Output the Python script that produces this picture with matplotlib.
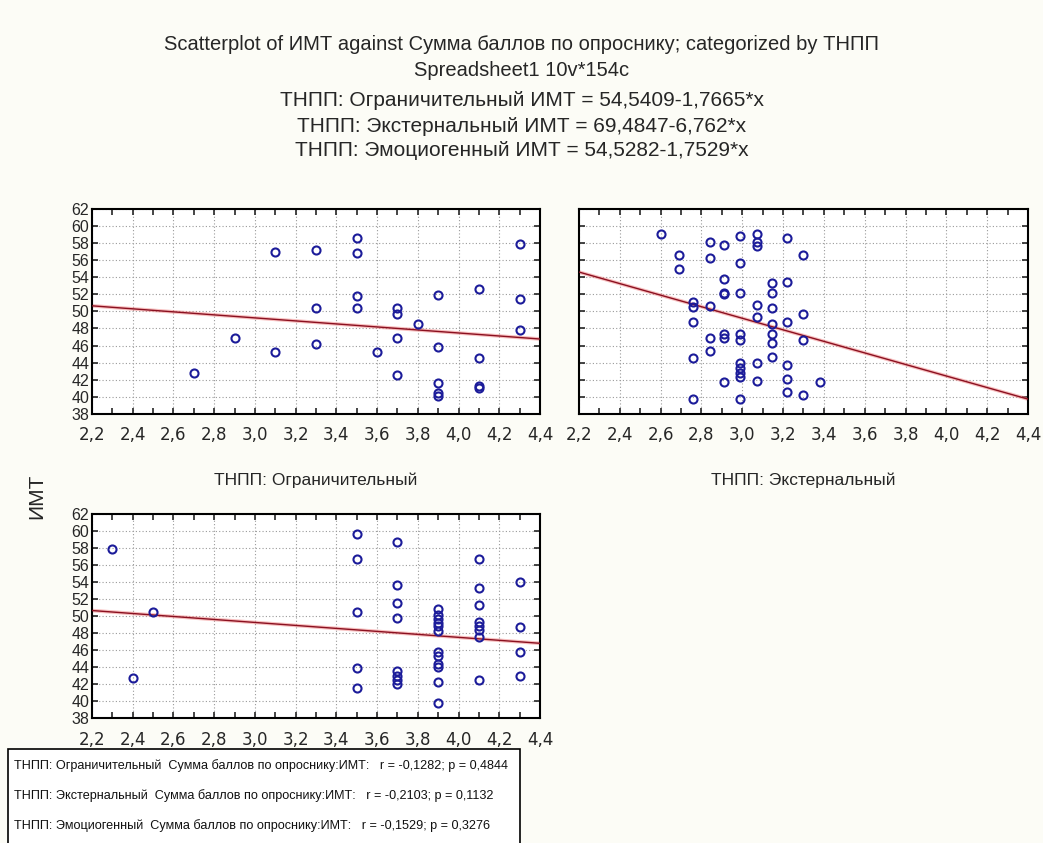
import numpy as np
import matplotlib
matplotlib.use("Agg")
import matplotlib.pyplot as plt
from matplotlib.patches import Rectangle
from matplotlib.ticker import FixedLocator, MultipleLocator, FuncFormatter

plt.rcParams['font.family'] = ['Liberation Sans', 'DejaVu Sans']

# --- data ---
group_names = ['ТНПП: Ограничительный', 'ТНПП: Экстернальный', 'ТНПП: Эмоциогенный']
intercepts = [54.5409, 69.4847, 54.5282]
slopes = [-1.7665, -6.762, -1.7529]
eq_text = ['54,5409-1,7665*x', '69,4847-6,762*x', '54,5282-1,7529*x']
r_vals = ['-0,1282', '-0,2103', '-0,1529']
p_vals = ['0,4844', '0,1132', '0,3276']

x_ogr = [2.7, 2.9, 3.1, 3.1, 3.3, 3.3, 3.3, 3.5, 3.5, 3.5, 3.5, 3.6, 3.7, 3.7, 3.7, 3.7,
         3.8, 3.9, 3.9, 3.9, 3.9, 3.9, 4.1, 4.1, 4.1, 4.1, 4.3, 4.3, 4.3]
y_ogr = [42.8, 46.9, 57.0, 45.3, 57.2, 50.4, 46.2, 58.6, 56.8, 51.8, 50.4, 45.3, 50.4, 49.7,
         46.9, 42.6, 48.5, 51.9, 45.8, 41.6, 40.4, 40.1, 52.6, 44.6, 41.3, 41.0, 57.9, 51.5, 47.8]

x_ext = [2.6, 2.69, 2.69, 2.76, 2.76, 2.76, 2.76, 2.76, 2.84, 2.84, 2.84, 2.84, 2.84,
         2.91, 2.91, 2.91, 2.91, 2.91, 2.91, 2.91,
         2.99, 2.99, 2.99, 2.99, 2.99, 2.99, 2.99, 2.99, 2.99, 2.99,
         3.07, 3.07, 3.07, 3.07, 3.07, 3.07, 3.07,
         3.145, 3.145, 3.145, 3.145, 3.145, 3.145, 3.145,
         3.22, 3.22, 3.22, 3.22, 3.22, 3.22,
         3.30, 3.30, 3.30, 3.30, 3.38]
y_ext = [59.1, 56.6, 55.0, 51.1, 50.5, 48.8, 44.6, 39.7, 58.1, 56.3, 50.6, 46.9, 45.4,
         57.75, 53.8, 52.2, 52.0, 47.3, 46.9, 41.7,
         58.85, 55.7, 52.2, 47.3, 46.7, 44.0, 43.4, 42.8, 42.3, 39.8,
         59.1, 58.1, 57.7, 50.8, 49.3, 44.0, 41.9,
         53.3, 52.2, 50.4, 48.5, 47.4, 46.3, 44.65,
         58.6, 53.5, 48.8, 43.7, 42.1, 40.6,
         56.6, 49.7, 46.7, 40.25, 41.7]

x_emo = [2.3, 2.4, 2.5, 3.5, 3.5, 3.5, 3.5, 3.5,
         3.7, 3.7, 3.7, 3.7, 3.7, 3.7, 3.7, 3.7,
         3.9, 3.9, 3.9, 3.9, 3.9, 3.9, 3.9, 3.9, 3.9, 3.9, 3.9, 3.9,
         4.1, 4.1, 4.1, 4.1, 4.1, 4.1, 4.1, 4.1,
         4.3, 4.3, 4.3, 4.3]
y_emo = [57.9, 42.7, 50.5, 59.65, 56.7, 50.5, 43.9, 41.6,
         58.75, 53.7, 51.5, 49.8, 43.5, 43.0, 42.5, 42.0,
         50.8, 50.2, 49.7, 49.2, 48.8, 48.3, 45.75, 45.3, 44.4, 44.0, 42.3, 39.8,
         56.7, 53.3, 51.3, 49.3, 48.9, 48.4, 47.6, 42.5,
         53.98, 48.7, 45.75, 43.0]

xs = [x_ogr, x_ext, x_emo]
ys = [y_ogr, y_ext, y_emo]

x_ticks = [2.2, 2.4, 2.6, 2.8, 3.0, 3.2, 3.4, 3.6, 3.8, 4.0, 4.2, 4.4]
y_ticks = [38, 40, 42, 44, 46, 48, 50, 52, 54, 56, 58, 60, 62]

bg = '#fcfcf6'
txt = '#262626'
fig = plt.figure(figsize=(10.43, 8.43), dpi=100, facecolor=bg)

# axes positions in figure fraction
boxes = [[0.0882, 0.509, 0.4295, 0.2432],
         [0.5551, 0.509, 0.4305, 0.2432],
         [0.0882, 0.148, 0.4295, 0.2420]]

comma = FuncFormatter(lambda v, pos: ('%.1f' % v).replace('.', ','))

for i in range(3):
    ax = fig.add_axes(boxes[i])
    ax.set_facecolor('white')
    ax.set_xlim(x_ticks[0], x_ticks[-1])
    ax.set_ylim(y_ticks[0], y_ticks[-1])
    ax.xaxis.set_major_locator(FixedLocator(x_ticks))
    ax.xaxis.set_minor_locator(MultipleLocator(0.1))
    ax.yaxis.set_major_locator(FixedLocator(y_ticks))
    ax.xaxis.set_major_formatter(comma)
    ax.grid(True, which='major', color='#9a9a9a', linestyle=(0, (1, 2)), linewidth=0.8)
    ax.tick_params(which='both', direction='in', top=True, right=True, length=4,
                   width=1.2, colors=txt)
    ax.tick_params(axis='x', labelsize=12, pad=9)
    ax.tick_params(axis='y', labelsize=11.5, pad=2)
    for lab in ax.get_xticklabels():
        lab.set_family('DejaVu Sans')
    for s in ax.spines.values():
        s.set_linewidth(1.5)
    if i == 1:
        ax.set_yticklabels([])
    # regression line over full x range
    xl = np.array([x_ticks[0], x_ticks[-1]])
    ax.plot(xl, intercepts[i] + slopes[i] * xl, color='#f08080', lw=2.6, alpha=0.5, zorder=2)
    ax.plot(xl, intercepts[i] + slopes[i] * xl, color='#8b1020', lw=1.0, zorder=3)
    ax.plot(xs[i], ys[i], 'o', mfc='none', mec='#1c1c9a', ms=5.8, mew=1.5, zorder=4,
            clip_on=False)
    if i < 2:
        fig.text(boxes[i][0] + boxes[i][2] / 2, 1 - 480 / 843, group_names[i],
                 ha='center', va='center', fontsize=12.5, color=txt)

fig.text(37 / 1043, 1 - 496 / 843, 'ИМТ', rotation=90, ha='center', va='center',
         fontsize=15, color=txt)

# titles
fig.text(0.5, 1 - 45 / 843, 'Scatterplot of ИМТ against Сумма баллов по опроснику; categorized by ТНПП',
         ha='center', va='center', fontsize=14.5, color=txt)
fig.text(0.5, 1 - 71 / 843, 'Spreadsheet1 10v*154c', ha='center', va='center',
         fontsize=14.5, color=txt)
for k in range(3):
    fig.text(0.5, 1 - (101 + 25 * k) / 843, group_names[k] + ' ИМТ = ' + eq_text[k],
             ha='center', va='center', fontsize=15, color=txt)

# stats box at bottom
fig.patches.append(Rectangle((8 / 1043, -0.01), 512 / 1043, 1 - 749 / 843 + 0.01,
                             transform=fig.transFigure, facecolor='white',
                             edgecolor='black', lw=1.2, zorder=5))
for k in range(3):
    fig.text(14 / 1043, 1 - (766 + 30 * k) / 843,
             group_names[k] + '  Сумма баллов по опроснику:ИМТ:   r = ' + r_vals[k] + '; p = ' + p_vals[k],
             ha='left', va='center', fontsize=9.05, color='#101010', zorder=6)

fig.savefig('out.png', dpi=100, facecolor=bg)
